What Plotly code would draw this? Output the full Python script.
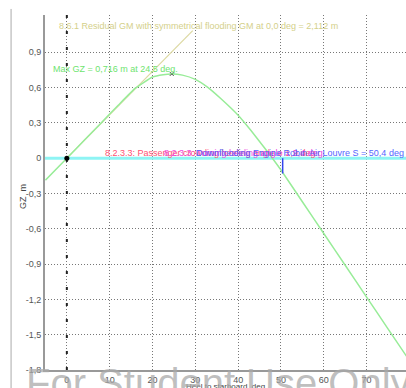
import plotly.graph_objects as go

# GZ curve: heel angle (deg) and righting lever (m)
heel_deg = [-5, 0, 4, 8, 12, 16, 20, 22.5, 24.5, 27, 30, 33, 36, 40, 43, 46, 48, 50,
            55, 60, 65, 70, 75, 80]
gz_m = [-0.187, 0.0, 0.15, 0.30, 0.45, 0.595, 0.69, 0.71, 0.716, 0.706, 0.67, 0.60, 0.505,
        0.365, 0.235, 0.095, 0.0, -0.10, -0.37, -0.64, -0.91, -1.18, -1.45, -1.72]

# Residual GM line
gm_value = 2.112
gm_line_end_deg = 29.4

# Maximum GZ
max_gz = 0.716
max_gz_angle = 24.5

# Downflooding angle
flood_angle = 50.4

x_ticks = [0, 10, 20, 30, 40, 50, 60, 70, 80]
x_tick_text = ["0", "10", "20", "30", "40", "50", "60", "70", "80"]
y_ticks = [0.9, 0.6, 0.3, 0, -0.3, -0.6, -0.9, -1.2, -1.5, -1.8]
y_tick_text = ["0,9", "0,6", "0,3", "0", "-0,3", "-0,6", "-0,9", "-1,2", "-1,5", "-1,8"]

FONT = "Liberation Sans, Arial, sans-serif"

fig = go.Figure()

# zero line
fig.add_trace(go.Scatter(x=[-6, 82], y=[0, 0], mode="lines",
                         line=dict(color="#8ef4f4", width=3), hoverinfo="skip"))

# vertical dashed line at 0 deg
fig.add_trace(go.Scatter(x=[0, 0], y=[-1.8, 1.25], mode="lines",
                         line=dict(color="#222222", width=2, dash="3px,13px"), hoverinfo="skip"))

# residual GM line
fig.add_trace(go.Scatter(x=[0, gm_line_end_deg], y=[0, gm_value * gm_line_end_deg / 57.2958],
                         mode="lines", line=dict(color="#dcd8a0", width=1.2), hoverinfo="skip"))

# GZ curve
fig.add_trace(go.Scatter(x=heel_deg, y=gz_m, mode="lines",
                         line=dict(color="#98ec98", width=1.5, shape="spline", smoothing=0.4)))

# max GZ marker
fig.add_trace(go.Scatter(x=[max_gz_angle], y=[max_gz], mode="markers",
                         marker=dict(symbol="x-thin", size=4, line=dict(color="#555555", width=1))))

# origin dot
fig.add_trace(go.Scatter(x=[0], y=[0], mode="markers", marker=dict(color="#000000", size=5)))

# downflooding tick
fig.add_trace(go.Scatter(x=[flood_angle, flood_angle], y=[0, -0.13], mode="lines",
                         line=dict(color="#3344ee", width=1.5)))

ann_font = dict(family=FONT, size=9)
annotations = [
    dict(x=-2.3, y=1.12, text="8.6.1 Residual GM with symmetrical flooding GM at 0,0 deg = 2,112 m",
         xanchor="left", font=dict(ann_font, color="#d4d08a")),
    dict(x=-3.7, y=0.755, text="Max GZ = 0,716 m at 24,5 deg.",
         xanchor="left", font=dict(ann_font, color="#6ee46e")),
    dict(x=8.4, y=0.04, text="8.2.3.3: Passenger crowding heeling angle = 1,9 deg",
         xanchor="left", font=dict(ann_font, color="#ff4f73")),
    dict(x=22.2, y=0.04, text="8.2.3.3: Turning heeling angle = 2,4 deg",
         xanchor="left", font=dict(ann_font, color="#ee44dd")),
    dict(x=79.2, y=0.04, text="Downflooding Engine Robin Air Louvre S = 50,4 deg",
         xanchor="right", font=dict(ann_font, color="#5566ff")),
    dict(xref="paper", yref="paper", x=-0.061, y=0.49, xanchor="center", text="GZ  m", textangle=-90,
         showarrow=False, font=dict(family=FONT, size=9, color="#444444")),
    dict(xref="paper", yref="paper", x=0.5, y=-0.028, xanchor="center", yanchor="top",
         text="Heel to starboard  deg",
         showarrow=False, font=dict(family=FONT, size=8, color="#444444")),
    dict(xref="paper", yref="paper", x=-0.057, y=0.03, xanchor="left", yanchor="top",
         text="For Student Use Only", showarrow=False,
         font=dict(family=FONT, size=40, color="rgba(170,170,170,0.75)")),
]
for a in annotations:
    a.setdefault("showarrow", False)
    a.setdefault("yanchor", "middle")

fig.update_layout(
    width=406, height=388, autosize=False,
    margin=dict(l=45, r=0, t=15, b=18),
    paper_bgcolor="white", plot_bgcolor="white",
    showlegend=False,
    annotations=annotations,
    shapes=[dict(type="line", xref="paper", yref="paper", x0=-0.094, x1=-0.094, y0=-0.06, y1=1.017,
                 line=dict(color="#aaaaaa", width=1))],
    xaxis=dict(range=[-5.1, 79.2], tickvals=x_ticks, ticktext=x_tick_text,
               showgrid=True, gridcolor="#777777", griddash="1px,2px", gridwidth=1,
               zeroline=False, showline=True, linecolor="#999999", linewidth=2,
               ticks="", tickfont=dict(family=FONT, size=9, color="#555555")),
    yaxis=dict(range=[-1.8, 1.217], tickvals=y_ticks, ticktext=y_tick_text,
               showgrid=True, gridcolor="#777777", griddash="1px,2px", gridwidth=1,
               zeroline=False, showline=True, linecolor="#999999", linewidth=2,
               ticks="", tickfont=dict(family=FONT, size=9, color="#555555")),
)

fig.write_html("out.html")
